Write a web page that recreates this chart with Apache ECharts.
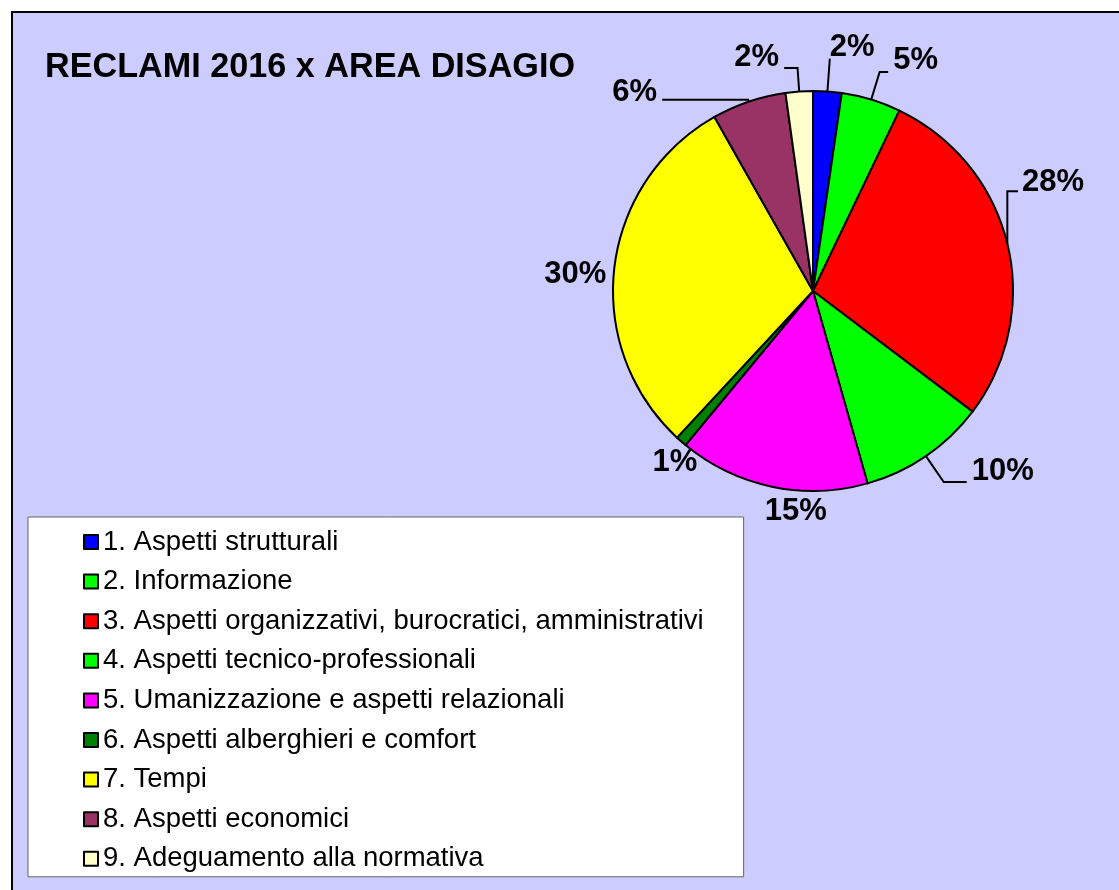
<!DOCTYPE html>
<html><head><meta charset="utf-8">
<script src="https://cdn.jsdelivr.net/npm/echarts@6/dist/echarts.min.js"></script>
<style>html,body{margin:0;padding:0;background:#fff}#c{width:1119px;height:890px}</style>
</head><body><div id="c"></div>
<script>
const titleText = 'RECLAMI 2016 x AREA DISAGIO';
const categories = [
  '1. Aspetti strutturali',
  '2. Informazione',
  '3. Aspetti organizzativi, burocratici, amministrativi',
  '4. Aspetti tecnico-professionali',
  '5. Umanizzazione e aspetti relazionali',
  '6. Aspetti alberghieri e comfort',
  '7. Tempi',
  '8. Aspetti economici',
  '9. Adeguamento alla normativa'
];
const values = [2.3, 4.8, 28.2, 10.3, 15.4, 0.9, 29.9, 6.0, 2.2];
const colors = ['#0000FF','#00FF00','#FF0000','#00FF00','#FF00FF','#008000','#FFFF00','#993366','#FFFFCC'];
// label styling (leader line lengths and label nudges)
const showLine = [true, true, true, true, false, false, false, true, true];
const lineLen1 = [33, 29, 10, 31.5, 0, 0, 0, 2, 23.5];
const lineLen2 = [0, 8.5, 8, 23, 0, 0, 0, 86, 13.4];
const nudgeX = [-5, 0, -8, 0, 60, 21, -3, 0, 0];
const nudgeY = [-11, -11, -59, -11, 25, 21, 7, -7, -11];
const elbowLine = [false, false, true, false, false, false, false, false, false];

const chart = echarts.init(document.getElementById('c'), null, {renderer:'canvas'});
const font = 'Arial, "Liberation Sans", sans-serif';
chart.setOption({
  backgroundColor: '#ffffff',
  animation: false,
  color: colors,
  graphic: [{
    type: 'rect', z: -10, silent: true,
    shape: {x: 12, y: 12, width: 1200, height: 1000},
    style: {fill: '#CCCCFF', stroke: '#000', lineWidth: 2}
  }],
  title: {
    text: titleText, left: 45, top: 51, padding: 0,
    textStyle: {fontFamily: font, fontSize: 34.2, fontWeight: 'bold', color: '#000'}
  },
  legend: {
    orient: 'vertical', left: 28, top: 517,
    backgroundColor: '#fff', borderColor: '#666', borderWidth: 1,
    padding: [11, 40, 4, 55],
    itemWidth: 14, itemHeight: 14, itemGap: 11.6, icon: 'rect',
    textStyle: {fontFamily: font, fontSize: 27.5, color: '#000', lineHeight: 28},
    data: categories
  },
  series: [{
    type: 'pie',
    center: [813, 291], radius: 200,
    startAngle: 90, clockwise: true,
    avoidLabelOverlap: false,
    itemStyle: {borderColor: '#000', borderWidth: 2},
    label: {
      show: true, position: 'outside', color: '#000',
      fontFamily: font, fontSize: 31, fontWeight: 'bold',
      formatter: p => Math.round(p.percent) + '%'
    },
    labelLine: {show: true, lineStyle: {color: '#000', width: 2}},
    labelLayout: p => {
      const i = p.dataIndex;
      if (!nudgeX[i] && !nudgeY[i]) return {};
      const out = {dx: nudgeX[i], dy: nudgeY[i]};
      if (elbowLine[i] && p.labelLinePoints && p.labelRect) {
        const p0 = p.labelLinePoints[0];
        const left = p.labelRect.x + nudgeX[i];
        const cy = p.labelRect.y + p.labelRect.height / 2 + nudgeY[i];
        out.labelLinePoints = [[p0[0], p0[1]], [p0[0], cy + 9], [left - 4, cy + 9]];
      }
      return out;
    },
    emphasis: {disabled: true},
    data: categories.map((n, i) => ({
      name: n, value: values[i],
      labelLine: {show: showLine[i], length: lineLen1[i], length2: lineLen2[i]}
    }))
  }]
});
</script></body></html>
